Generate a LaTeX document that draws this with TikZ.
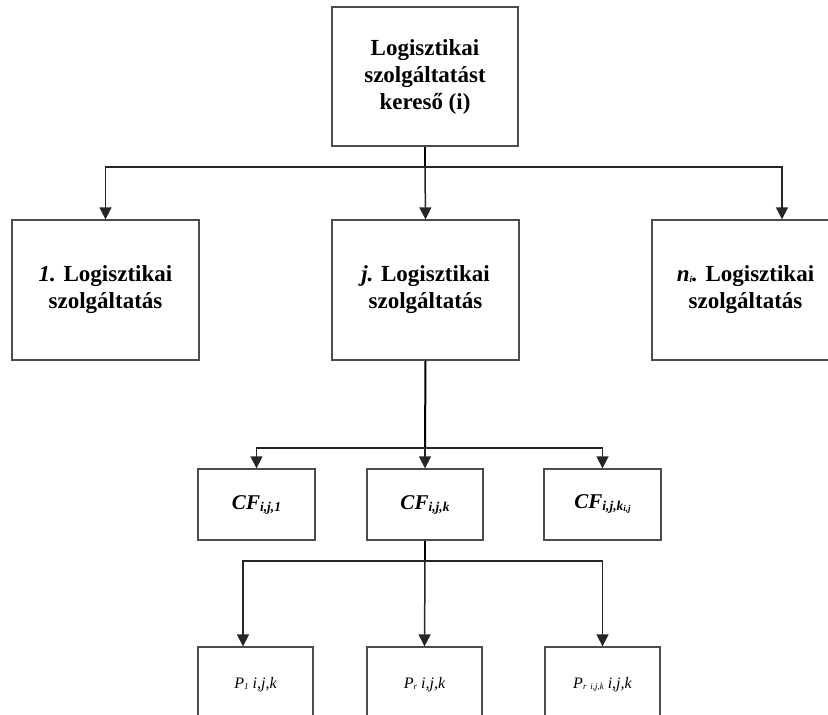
\documentclass[tikz,border=0pt]{standalone}
\usepackage{fontspec}
\setmainfont{Liberation Serif}
\usetikzlibrary{arrows.meta,calc}
\newcommand\lsub[1]{\raisebox{-2pt}{\fontsize{13.5}{14}\selectfont #1}}
\newcommand\tsub[1]{\raisebox{-1pt}{\fontsize{9}{10}\selectfont #1}}
\begin{document}
\begin{tikzpicture}[x=1pt,y=-1pt,
  box/.style={draw=black!70, line width=1.3pt, rectangle, align=center, inner sep=0pt, fill=white},
  big/.style={font=\fontsize{23}{27}\selectfont\bfseries},
  cf/.style={font=\fontsize{21}{22}\selectfont\bfseries\itshape},
  pp/.style={font=\fontsize{16}{18}\selectfont\itshape},
  conn/.style={draw=black!85, line width=1.5pt},
  stem/.style={draw=black, line width=2pt},
  arr/.style={conn, -{Triangle[length=12pt,width=12pt]}}]
\clip (0,0) rectangle (828,715);
\fill[white] (0,0) rectangle (828,715);
% nodes
\node[box, minimum width=186pt, minimum height=139pt, big] (top) at (425,76.5) {Logisztikai\\szolgáltatást\\kereső (i)};
\node[box, minimum width=187pt, minimum height=140pt, big] (l1) at (105.5,290) {\textit{1.} Logisztikai\\szolgáltatás};
\node[box, minimum width=187pt, minimum height=140pt, big] (lj) at (425.5,290) {\textit{j.} Logisztikai\\szolgáltatás};
\node[box, minimum width=187pt, minimum height=140pt, big] (ln) at (745.5,290) {\textit{n}\tsub{\textit{i}}\textit{.} Logisztikai\\szolgáltatás};
\node[box, minimum width=117pt, minimum height=71pt, cf] (cf1) at (256.5,504.5) {CF\lsub{i,j,1}};
\node[box, minimum width=116pt, minimum height=71pt, cf] (cfk) at (425,504.5) {CF\lsub{i,j,k}};
\node[box, minimum width=117pt, minimum height=71pt, cf] (cfr) at (602.5,504.5) {CF\lsub{i,j,k\tsub{i,j}}};
\node[box, minimum width=115pt, minimum height=76pt, pp] (p1) at (255.5,685) {P\tsub{1} i,j,k};
\node[box, minimum width=115pt, minimum height=76pt, pp] (pr) at (424.5,685) {P\tsub{r} i,j,k};
\node[box, minimum width=115pt, minimum height=76pt, pp] (prr) at (602.5,685) {P\tsub{r \,i,j,k} i,j,k};
% junctions
\coordinate (h1) at (425,167);
\coordinate (h2) at (425,448);
\coordinate (h3) at (425,561);
% connectors
\draw[stem] (top.south) -- (h1);
\draw[arr] (h1) -| (l1.north);
\draw[arr] (h1) -- (lj.north);
\draw[arr] (h1) -| ([xshift=36.5pt]ln.north);
\draw[stem] (lj.south) -- (h2);
\draw[arr] (h2) -| (cf1.north);
\draw[arr] (h2) -- (cfk.north);
\draw[arr] (h2) -| (cfr.north);
\draw[stem] (cfk.south) -- (h3);
\draw[arr] (h3) -| ([xshift=-12.5pt]p1.north);
\draw[arr] (h3) -- (pr.north);
\draw[arr] (h3) -| (prr.north);
\end{tikzpicture}
\end{document}
